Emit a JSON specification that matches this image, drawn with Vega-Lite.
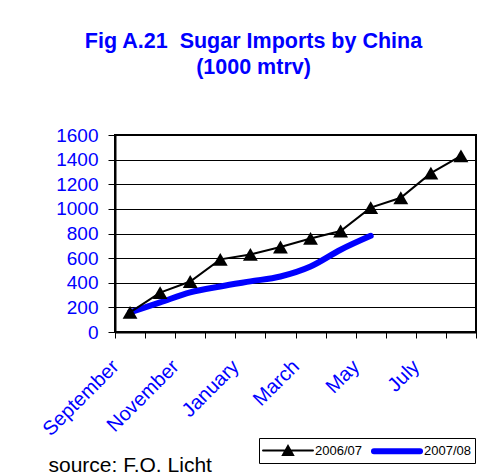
{
  "$schema": "https://vega.github.io/schema/vega-lite/v6.json",
  "width": 361,
  "height": 197,
  "autosize": "none",
  "padding": {"left": 115, "top": 135, "right": 15, "bottom": 143},
  "background": "white",
  "config": {
    "font": "Liberation Sans",
    "view": {"stroke": "black", "strokeWidth": 2}
  },
  "title": {
    "text": ["Fig A.21 \u00a0Sugar Imports by China", "(1000 mtrv)"],
    "fontSize": 21.5,
    "fontWeight": "bold",
    "color": "#0000FF",
    "font": "Liberation Sans",
    "anchor": "middle",
    "frame": "group",
    "dx": -42,
    "lineHeight": 26,
    "offset": 48
  },
  "data": {
    "values": [
      {"month": "September", "series": "2006/07", "value": 160},
      {"month": "October", "series": "2006/07", "value": 320},
      {"month": "November", "series": "2006/07", "value": 410},
      {"month": "December", "series": "2006/07", "value": 590},
      {"month": "January", "series": "2006/07", "value": 630},
      {"month": "February", "series": "2006/07", "value": 690},
      {"month": "March", "series": "2006/07", "value": 760},
      {"month": "April", "series": "2006/07", "value": 820},
      {"month": "May", "series": "2006/07", "value": 1010},
      {"month": "June", "series": "2006/07", "value": 1090},
      {"month": "July", "series": "2006/07", "value": 1290},
      {"month": "August", "series": "2006/07", "value": 1430},
      {"month": "September", "series": "2007/08", "value": 160},
      {"month": "October", "series": "2007/08", "value": 240},
      {"month": "November", "series": "2007/08", "value": 322},
      {"month": "December", "series": "2007/08", "value": 370},
      {"month": "January", "series": "2007/08", "value": 411},
      {"month": "February", "series": "2007/08", "value": 451},
      {"month": "March", "series": "2007/08", "value": 532},
      {"month": "April", "series": "2007/08", "value": 668},
      {"month": "May", "series": "2007/08", "value": 781}
    ]
  },
  "encoding": {
    "x": {
      "field": "month",
      "type": "nominal",
      "bandPosition": 0.5,
      "sort": ["September","October","November","December","January","February","March","April","May","June","July","August"],
      "scale": {"type": "band", "paddingInner": 0, "paddingOuter": 0},
      "axis": {
        "title": "source: F.O. Licht",
        "titleX": -67,
        "titleY": 139,
        "titleAlign": "left",
        "titleAnchor": null,
        "titleBaseline": "alphabetic",
        "titleFontSize": 21,
        "titleFontWeight": "normal",
        "titleColor": "black",
        "titleFont": "Liberation Sans",
        "domainColor": "black",
        "domainWidth": 2,
        "tickColor": "black",
        "tickSize": 6,
        "tickBand": "extent",
        "labelAngle": -45,
        "labelAlign": "right",
        "labelBaseline": "top",
        "labelOffset": -22,
        "labelPadding": 18,
        "labelFontSize": 20,
        "labelColor": "#0000FF",
        "labelOverlap": false,
        "labelBound": false,
        "labelExpr": "indexof(['September','November','January','March','May','July'], datum.value) >= 0 ? datum.label : ''"
      }
    },
    "y": {
      "field": "value",
      "type": "quantitative",
      "scale": {"domain": [0, 1600], "nice": false},
      "axis": {
        "title": null,
        "format": "d",
        "values": [0,200,400,600,800,1000,1200,1400,1600],
        "domainColor": "black",
        "domainWidth": 2,
        "tickColor": "black",
        "tickSize": 7,
        "labelPadding": 10,
        "labelFontSize": 19,
        "labelColor": "#0000FF",
        "gridColor": "black",
        "gridWidth": 1,
        "gridOpacity": 1
      }
    },
    "color": {
      "field": "series",
      "type": "nominal",
      "scale": {"domain": ["2006/07", "2007/08"], "range": ["black", "#0000FF"]},
      "legend": {
        "title": null,
        "orient": "none",
        "legendX": 144,
        "legendY": 303,
        "direction": "horizontal",
        "strokeColor": "black",
        "fillColor": "white",
        "padding": 4,
        "labelFontSize": 13,
        "labelColor": "black",
        "labelFont": "Liberation Sans",
        "labelOffset": 35,
        "columnPadding": 5,
        "symbolSize": 225,
        "symbolStrokeWidth": 2,
        "symbolType": "stroke",
        "encode": {
          "symbols": {
            "update": {
              "shape": {"signal": "datum.value == '2006/07' ? 'M-1.13,0H5.53M1.53,0.6L2.2,-0.6L2.87,0.6Z' : 'M-0.87,-0.267H5.27A0.267,0.267 0 0 1 5.27,0.267H-0.87A0.267,0.267 0 0 1 -0.87,-0.267Z'"},
              "fill": {"signal": "datum.value == '2006/07' ? 'black' : '#0000FF'"},
              "stroke": {"signal": "datum.value == '2006/07' ? 'black' : '#0000FF'"},
              "strokeCap": {"value": "round"}
            }
          }
        }
      }
    }
  },
  "layer": [
    {
      "transform": [{"filter": "datum.series == '2007/08'"}],
      "mark": {"type": "line", "strokeWidth": 6, "interpolate": "monotone", "strokeCap": "round"}
    },
    {
      "transform": [{"filter": "datum.series == '2006/07'"}],
      "mark": {"type": "line", "strokeWidth": 2}
    },
    {
      "transform": [{"filter": "datum.series == '2006/07'"}],
      "mark": {"type": "point", "shape": "triangle-up", "filled": true, "size": 220, "opacity": 1, "color": "black"}
    }
  ]
}
